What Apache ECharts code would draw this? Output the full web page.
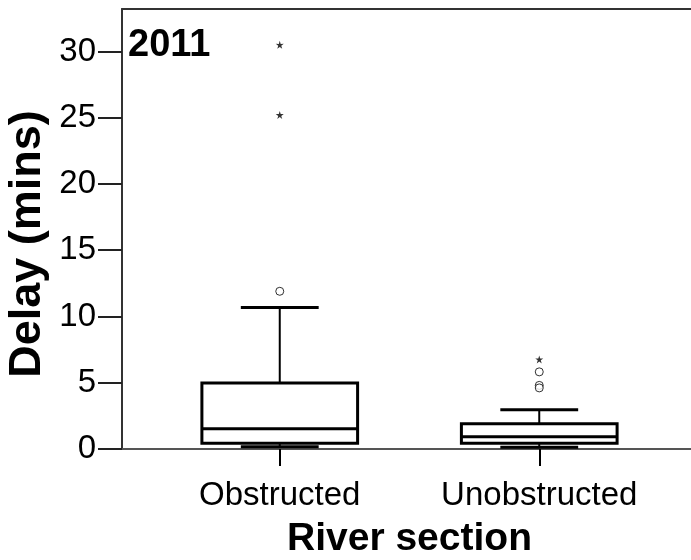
<!DOCTYPE html>
<html>
<head>
<meta charset="utf-8">
<script src="https://cdn.jsdelivr.net/npm/echarts@6/dist/echarts.min.js"></script>
<style>
  html, body { margin: 0; padding: 0; background: #fff; }
  #main { width: 691px; height: 560px; }
</style>
</head>
<body>
<div id="main"></div>
<script>
const categories = ['Obstructed', 'Unobstructed'];
// [category index, lower whisker, Q1, median, Q3, upper whisker]
const boxValues = [
  [0, 0.17, 0.43, 1.52, 4.98, 10.68],
  [1, 0.13, 0.43, 0.93, 1.90, 2.96]
];
const outlierCircles = [[0, 11.9], [1, 5.82], [1, 4.80], [1, 4.61]];
const outlierStars = [[0, 30.5], [0, 25.2], [1, 6.76]];
const yTicks = [0, 5, 10, 15, 20, 25, 30];
const yMax = 33.2;

const starPath = 'path://M0,-10L2.2,-3L9.5,-3.1L3.6,1.2L5.9,8.1L0,3.8L-5.9,8.1L-3.6,1.2L-9.5,-3.1L-2.2,-3Z';
const font = '"Liberation Sans", Arial, sans-serif';

function renderBox(params, api) {
  const i = api.value(0);
  const lo = api.coord([i, api.value(1)]);
  const q1 = api.coord([i, api.value(2)]);
  const med = api.coord([i, api.value(3)]);
  const q3 = api.coord([i, api.value(4)]);
  const hi = api.coord([i, api.value(5)]);
  const band = api.size([1, 0])[0];
  const half = band * 0.3;
  const cap = band * 0.15;
  const x = lo[0];
  const line = (x1, y1, x2, y2, w) => ({
    type: 'line',
    shape: {x1, y1, x2, y2},
    style: {stroke: '#000', lineWidth: w}
  });
  return {
    type: 'group',
    children: [
      line(x, hi[1], x, q3[1], 2),
      line(x, q1[1], x, lo[1], 2),
      line(x - cap, hi[1], x + cap, hi[1], 3),
      line(x - cap, lo[1], x + cap, lo[1], 3),
      {
        type: 'rect',
        shape: {x: x - half, y: q3[1], width: half * 2, height: q1[1] - q3[1]},
        style: {fill: '#fff', stroke: '#000', lineWidth: 3}
      },
      line(x - half, med[1], x + half, med[1], 3)
    ]
  };
}

const frameLine = {show: true, lineStyle: {color: '#333', width: 2}};

const myChart = echarts.init(document.getElementById('main'));
myChart.setOption({
  animation: false,
  backgroundColor: '#fff',
  grid: [
    {left: 122, right: 0, top: 9, bottom: 111, outerBoundsMode: 'none'},
    {left: 150, right: 22, top: 9, bottom: 111, outerBoundsMode: 'none'}
  ],
  xAxis: [
    {
      gridIndex: 0, type: 'value', min: 0, max: 1, position: 'bottom',
      axisLine: {show: true, lineStyle: {color: '#555', width: 2}},
      axisTick: {show: false}, axisLabel: {show: false}, splitLine: {show: false}
    },
    {
      gridIndex: 1,
      type: 'category',
      data: categories,
      axisLine: {show: false},
      axisTick: {show: true, alignWithLabel: true, length: 17, lineStyle: {color: '#000', width: 2}},
      axisLabel: {color: '#000', fontSize: 33, fontFamily: font, margin: 30},
      name: 'River section',
      nameLocation: 'middle',
      nameGap: 71,
      nameTextStyle: {color: '#000', fontSize: 39, fontWeight: 'bold', fontFamily: font}
    },
    {
      gridIndex: 0, type: 'value', min: 0, max: 1, position: 'top',
      axisLine: frameLine,
      axisTick: {show: false}, axisLabel: {show: false}, splitLine: {show: false}
    }
  ],
  yAxis: [
    {
      gridIndex: 0,
      type: 'value',
      min: 0,
      max: yMax,
      splitLine: {show: false},
      axisLine: frameLine,
      axisTick: {show: true, length: 24, customValues: yTicks, lineStyle: {color: '#222', width: 2}},
      axisLabel: {color: '#000', fontSize: 33, fontFamily: font, margin: 26, customValues: yTicks}
    },
    {gridIndex: 1, type: 'value', min: 0, max: yMax, show: false}
  ],
  graphic: [
    {
      type: 'text',
      left: 128,
      top: 27,
      style: {text: '2011', fill: '#000', font: 'bold 38px ' + font}
    },
    {
      type: 'text',
      x: 28,
      y: 244,
      rotation: Math.PI / 2,
      style: {
        text: 'Delay (mins)',
        fill: '#000',
        font: 'bold 45px ' + font,
        align: 'center',
        verticalAlign: 'middle'
      }
    }
  ],
  series: [
    {
      type: 'custom',
      xAxisIndex: 1,
      yAxisIndex: 1,
      renderItem: renderBox,
      data: boxValues,
      z: 2
    },
    {
      type: 'scatter',
      xAxisIndex: 1,
      yAxisIndex: 1,
      data: outlierCircles,
      symbol: 'circle',
      symbolSize: 8,
      itemStyle: {color: '#fff', borderColor: '#000', borderWidth: 1},
      z: 3
    },
    {
      type: 'scatter',
      xAxisIndex: 1,
      yAxisIndex: 1,
      data: outlierStars,
      symbol: starPath,
      symbolSize: 8,
      itemStyle: {color: '#000'},
      z: 3
    }
  ]
});
</script>
</body>
</html>
